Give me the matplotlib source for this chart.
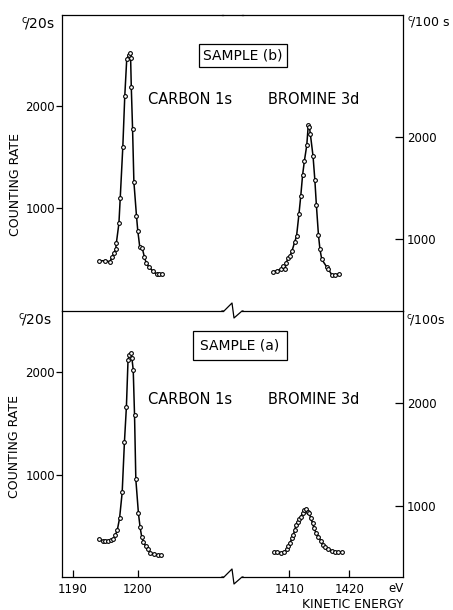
import matplotlib
matplotlib.use("Agg")
import matplotlib.pyplot as plt
from matplotlib.lines import Line2D

plt.rcParams['font.family'] = ['DejaVu Sans']
plt.rcParams['mathtext.fontset'] = 'dejavusans'

# sample (b) - carbon 1s, c/20s
cb_x = [1194.0, 1195.0, 1195.7, 1196.1, 1196.35, 1196.6, 1196.7, 1197.1, 1197.3, 1197.7,
        1198.0, 1198.3, 1198.6, 1198.8, 1198.9, 1199.0, 1199.2, 1199.4, 1199.8, 1200.0,
        1200.3, 1200.7, 1201.0, 1201.3, 1201.7, 1202.3, 1202.9, 1203.3, 1203.7]
cb_y = [479, 479, 470, 519, 558, 592, 650, 847, 1093, 1600,
        2098, 2459, 2502, 2521, 2469, 2190, 1771, 1256, 919, 774,
        617, 601, 519, 457, 420, 378, 346, 346, 346]

# sample (b) - bromine 3d, c/100s
bb_x = [1407.3, 1407.9, 1408.6, 1408.9, 1409.3, 1409.45, 1409.8, 1410.1, 1410.45, 1410.9,
        1411.2, 1411.6, 1411.9, 1412.2, 1412.5, 1412.9, 1413.15, 1413.35, 1413.5, 1413.95,
        1414.25, 1414.5, 1414.85, 1415.1, 1415.4, 1416.2, 1416.5, 1417.1, 1417.6, 1418.2]
bb_y = [682, 692, 706, 738, 706, 770, 813, 836, 888, 976,
        1032, 1248, 1424, 1627, 1767, 1921, 2117, 2100, 2032, 1813,
        1581, 1339, 1042, 902, 804, 731, 706, 650, 650, 660]

# sample (a) - carbon 1s, c/20s
ca_x = [1194.0, 1194.6, 1195.0, 1195.4, 1195.85, 1196.25, 1196.55, 1196.85, 1197.2, 1197.6,
        1197.95, 1198.25, 1198.5, 1198.7, 1198.9, 1199.1, 1199.3, 1199.5, 1199.7, 1200.1,
        1200.35, 1200.6, 1200.85, 1201.2, 1201.5, 1201.9, 1202.5, 1203.1, 1203.6]
ca_y = [368, 355, 355, 355, 362, 368, 410, 459, 574, 826,
        1322, 1662, 2121, 2170, 2192, 2137, 2023, 1583, 954, 622,
        489, 394, 345, 303, 271, 238, 222, 215, 215]

# sample (a) - bromine 3d, c/100s
ba_x = [1407.45, 1408.0, 1408.55, 1409.1, 1409.55, 1409.85, 1410.1, 1410.45, 1410.65, 1410.9,
        1411.1, 1411.4, 1411.6, 1411.9, 1412.25, 1412.45, 1412.8, 1413.05, 1413.35, 1413.55,
        1413.9, 1414.1, 1414.45, 1414.85, 1415.25, 1415.55, 1415.95, 1416.5, 1417.05, 1417.6,
        1418.15, 1418.75]
ba_y = [553, 548, 544, 550, 577, 609, 641, 683, 716, 764,
        813, 845, 868, 893, 932, 958, 965, 942, 926, 878,
        829, 781, 738, 699, 660, 618, 596, 580, 563, 553,
        548, 553]

left_ticks = [1000, 2000]
right_ticks = [1000, 2000]
carbon_xticks = [1190, 1200]
bromine_xticks = [1410, 1420]

W, H = 453, 610
fig = plt.figure(figsize=(W / 100, H / 100), dpi=100)


def fx(px):
    return px / W


def fy(py):
    return 1 - py / H


def add_axes(x0, x1, y0, y1):
    return fig.add_axes([fx(x0), fy(y1), fx(x1) - fx(x0), fy(y0) - fy(y1)])


LW = 0.9
style = dict(color='black', lw=1.1, marker='o', ms=2.7, mfc='white', mec='black', mew=0.8)

panels = [
    # (top px, bottom px, carbon data, bromine data, left ylim, right ylim, bottom panel?)
    (15, 311, (cb_x, cb_y), (bb_x, bb_y), (-15, 2895), (297, 3199), False),
    (311, 577, (ca_x, ca_y), (ba_x, ba_y), (0, 2600), (308, 2890), True),
]

for top, bot, carbon, bromine, ylim_l, ylim_r, is_bottom in panels:
    axl = add_axes(62, 223, top, bot)
    axr = add_axes(242, 403, top, bot)

    axl.plot(*carbon, **style)
    axr.plot(*bromine, **style)

    axl.set_xlim(1188.35, 1213.1)
    axr.set_xlim(1402.1, 1428.95)
    axl.set_ylim(*ylim_l)
    axr.set_ylim(*ylim_r)

    for ax in (axl, axr):
        for s in ax.spines.values():
            s.set_linewidth(LW)
        ax.set_facecolor('none')
    axl.spines['right'].set_visible(False)
    axr.spines['left'].set_visible(False)
    if is_bottom:
        axl.spines['top'].set_visible(False)
        axr.spines['top'].set_visible(False)

    axl.set_yticks(left_ticks)
    axl.tick_params(axis='y', direction='out', length=4, width=LW, labelsize=8.5, pad=1)
    axr.yaxis.tick_right()
    axr.set_yticks(right_ticks)
    axr.tick_params(axis='y', direction='in', length=6, width=LW, labelsize=8.5, pad=3)

    if is_bottom:
        axl.set_xticks(carbon_xticks)
        axr.set_xticks(bromine_xticks)
        for ax in (axl, axr):
            ax.tick_params(axis='x', direction='in', length=5, width=LW, labelsize=8.5, pad=4)
    else:
        axl.set_xticks([])
        axr.set_xticks([])

# frame pieces in the gap: straight at top, zigzag breaks at middle and bottom
fig.add_artist(Line2D([fx(222), fx(243)], [fy(15), fy(15)], color='black', lw=LW))
for yb in (311, 577):
    xs = [222, 224, 232, 234, 242, 243]
    ys = [yb, yb, yb - 8, yb + 7, yb, yb]
    fig.add_artist(Line2D([fx(v) for v in xs], [fy(v) for v in ys], color='black', lw=LW))

# unit labels
fig.text(fx(21), fy(23), r'$^{\mathrm{c}}\!$/20s', fontsize=10, ha='left', va='center')
fig.text(fx(18), fy(320), r'$^{\mathrm{c}}\!$/20s', fontsize=10, ha='left', va='center')
fig.text(fx(407), fy(23), r'$^{\mathrm{c}}\!$/100 s', fontsize=9, ha='left', va='center')
fig.text(fx(406), fy(320), r'$^{\mathrm{c}}\!$/100s', fontsize=9, ha='left', va='center')

# axis titles
fig.text(fx(16), fy(184), 'COUNTING RATE', fontsize=9, rotation=90, ha='center', va='center')
fig.text(fx(15), fy(447), 'COUNTING RATE', fontsize=9, rotation=90, ha='center', va='center')
fig.text(fx(396), fy(589), 'eV', fontsize=8.5, ha='center', va='center')
fig.text(fx(403), fy(604), 'KINETIC ENERGY', fontsize=8.8, ha='right', va='center')

# peak labels
box = dict(boxstyle='square,pad=0.3', fc='white', ec='black', lw=LW)
fig.text(fx(243), fy(55.5), 'SAMPLE (b)', fontsize=10, ha='center', va='center', bbox=box)
box_a = dict(boxstyle='square,pad=0.55', fc='white', ec='black', lw=LW)
fig.text(fx(240), fy(345.5), 'SAMPLE (a)', fontsize=10, ha='center', va='center', bbox=box_a)
for yt in (100, 399):
    fig.text(fx(148), fy(yt), 'CARBON 1s', fontsize=10.5, ha='left', va='center')
    fig.text(fx(268), fy(yt), 'BROMINE 3d', fontsize=10.5, ha='left', va='center')

fig.savefig('out.png', dpi=100)
